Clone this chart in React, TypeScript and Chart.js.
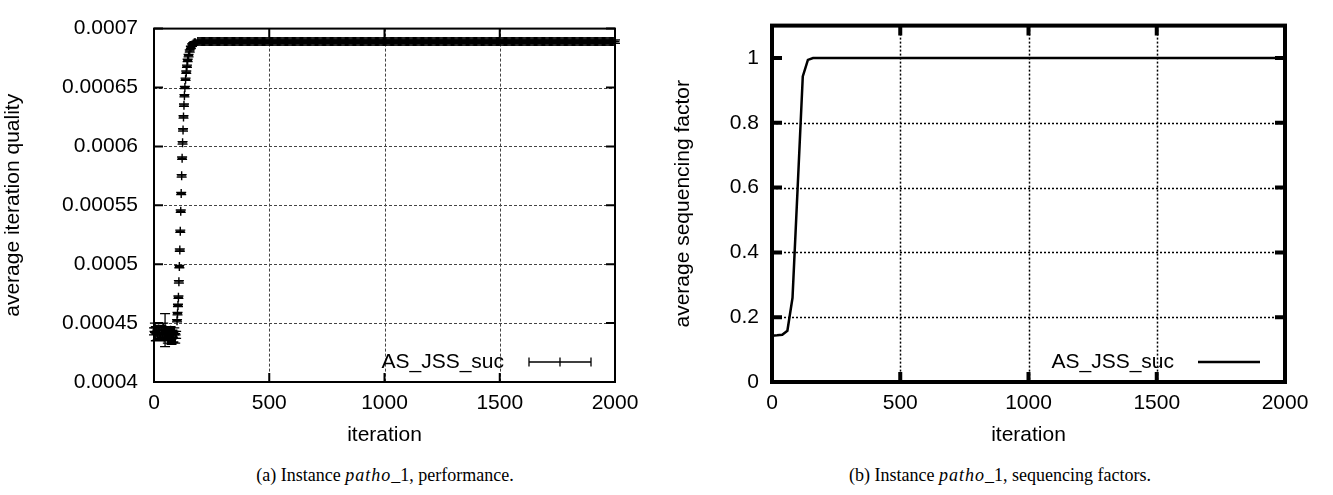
import React, { useEffect, useRef } from "react";
import { Chart, registerables } from "chart.js";

Chart.register(...registerables);

// ---------- tick values / labels ----------
const xTickValues = [0, 500, 1000, 1500, 2000];
const xTickLabels = ["0", "500", "1000", "1500", "2000"];
const qTickValues = [0.0004, 0.00045, 0.0005, 0.00055, 0.0006, 0.00065, 0.0007];
const qTickLabels = ["0.0004", "0.00045", "0.0005", "0.00055", "0.0006", "0.00065", "0.0007"];
const sTickValues = [0, 0.2, 0.4, 0.6, 0.8, 1];
const sTickLabels = ["0", "0.2", "0.4", "0.6", "0.8", "1"];

const seriesName = "AS_JSS_suc";

// ---------- (a) average iteration quality: early + rising part ----------
const qIter = [
  0, 4, 8, 12, 16, 20, 24, 28, 32, 36, 40, 44, 48, 52, 56, 60, 64, 68, 72, 76, 80, 84, 88, 92, 96,
  100, 102, 104, 106, 108, 110, 112, 114, 116, 118, 120, 122, 124, 126, 128, 130, 132, 134,
  137, 140, 143, 146, 150, 155, 160, 165, 170, 175, 180, 190,
];
const qMean = [
  0.000443, 0.000446, 0.000441, 0.000444, 0.00044, 0.000445, 0.000442, 0.000439, 0.000444, 0.000441,
  0.000446, 0.000438, 0.000444, 0.00044, 0.000443, 0.000437, 0.000442, 0.000439, 0.000444, 0.000436,
  0.000441, 0.000438, 0.000443, 0.000437, 0.00044,
  0.000452, 0.000458, 0.000465, 0.000472, 0.000485, 0.000498, 0.000512, 0.000528, 0.000545, 0.00056,
  0.000575, 0.00059, 0.000603, 0.000614, 0.000625, 0.000635, 0.000643, 0.00065,
  0.000657, 0.000663, 0.000668, 0.000673, 0.000677, 0.000681, 0.000684, 0.000686, 0.000687, 0.000688,
  0.000688, 0.000689,
];
const qErr = [
  0.000003, 0.000004, 0.000006, 0.000003, 0.000004, 0.000003, 0.000005, 0.000003, 0.000004, 0.000003,
  0.000004, 0.000003, 0.000014, 0.000004, 0.000003, 0.000004, 0.000003, 0.000004, 0.000003, 0.000004,
  0.000003, 0.000004, 0.000003, 0.000004, 0.000003,
  0.000001, 0.000001, 0.000001, 0.000001, 0.000001, 0.000001, 0.000001, 0.000001, 0.000001, 0.000001,
  0.000001, 0.000001, 0.000001, 0.000001, 0.000001, 0.000001, 0.000001, 0.000001,
  0.000001, 0.000001, 0.000001, 0.000001, 0.000001, 0.000001, 0.000001, 0.000001, 0.000001, 0.000001,
  0.000001, 0.000001,
];
// plateau: every sample from iteration 195 to 2000 (step 5) reads as this value
const plateauValue = 0.000689;
const plateauErr = 0.0000015;
const plateauIter: number[] = [];
for (let it = 195; it <= 2000; it += 5) plateauIter.push(it);

// ---------- (b) average sequencing factor ----------
const sIter = [0, 20, 40, 60, 80, 100, 120, 140, 160, 500, 1000, 1500, 2000];
const sVal = [0.143, 0.144, 0.146, 0.158, 0.26, 0.6, 0.943, 0.994, 1, 1, 1, 1, 1];

const FONT = "'Liberation Sans', Arial, Helvetica, sans-serif";
const SERIF = "'Liberation Serif', 'Times New Roman', Times, serif";

type Decor = {
  yTicks: number[];
  frameWidth: number;
  tickWidth: number;
  tickLen: number;
  gridColor: string;
  gridWidth: number;
  gridDash: number[];
  legend: (ctx: CanvasRenderingContext2D) => void;
  errors?: { x: number; y: number; e: number }[];
  capHalf?: number;
};

function decorPlugin(d: Decor) {
  return {
    id: "gnuDecor",
    beforeDatasetsDraw(chart: any) {
      const { ctx, chartArea: a, scales } = chart;
      const xs = scales.x;
      const ys = scales.y;
      ctx.save();
      ctx.strokeStyle = d.gridColor;
      ctx.lineWidth = d.gridWidth;
      ctx.setLineDash(d.gridDash);
      xTickValues.slice(1, -1).forEach((v) => {
        const px = Math.round(xs.getPixelForValue(v)) + 0.5;
        ctx.beginPath();
        ctx.moveTo(px, a.top);
        ctx.lineTo(px, a.bottom);
        ctx.stroke();
      });
      d.yTicks.slice(1, -1).forEach((v) => {
        const py = Math.round(ys.getPixelForValue(v)) + 0.5;
        ctx.beginPath();
        ctx.moveTo(a.left, py);
        ctx.lineTo(a.right, py);
        ctx.stroke();
      });
      ctx.setLineDash([]);
      if (d.errors) {
        ctx.strokeStyle = "#000";
        ctx.lineWidth = 1.3;
        const ch = d.capHalf || 5;
        ctx.beginPath();
        d.errors.forEach((p) => {
          const px = xs.getPixelForValue(p.x);
          const y1 = ys.getPixelForValue(p.y - p.e);
          const y2 = ys.getPixelForValue(p.y + p.e);
          ctx.moveTo(px, y1);
          ctx.lineTo(px, y2);
          ctx.moveTo(px - ch, y1);
          ctx.lineTo(px + ch, y1);
          ctx.moveTo(px - ch, y2);
          ctx.lineTo(px + ch, y2);
        });
        ctx.stroke();
      }
      ctx.restore();
    },
    afterDatasetsDraw(chart: any) {
      const { ctx, chartArea: a, scales } = chart;
      const xs = scales.x;
      const ys = scales.y;
      ctx.save();
      ctx.strokeStyle = "#000";
      ctx.lineWidth = d.tickWidth;
      ctx.beginPath();
      xTickValues.forEach((v) => {
        const px = xs.getPixelForValue(v);
        ctx.moveTo(px, a.bottom);
        ctx.lineTo(px, a.bottom - d.tickLen);
        ctx.moveTo(px, a.top);
        ctx.lineTo(px, a.top + d.tickLen);
      });
      d.yTicks.forEach((v) => {
        const py = ys.getPixelForValue(v);
        ctx.moveTo(a.left, py);
        ctx.lineTo(a.left + d.tickLen, py);
        ctx.moveTo(a.right, py);
        ctx.lineTo(a.right - d.tickLen, py);
      });
      ctx.stroke();
      ctx.lineWidth = d.frameWidth;
      ctx.strokeRect(a.left, a.top, a.right - a.left, a.bottom - a.top);
      d.legend(ctx);
      ctx.restore();
    },
  };
}

function axisCommon(ticks: number[], labels: string[]) {
  return {
    afterBuildTicks: (s: any) => {
      s.ticks = ticks.map((value) => ({ value }));
    },
    grid: { display: false, drawTicks: false },
    border: { display: false },
    ticks: {
      color: "#000",
      font: { family: FONT, size: 21 },
      autoSkip: false,
      maxRotation: 0,
      callback: (_v: any, i: number) => labels[i] ?? "",
    },
  };
}

export default function App() {
  const leftRef = useRef<HTMLCanvasElement | null>(null);
  const rightRef = useRef<HTMLCanvasElement | null>(null);

  useEffect(() => {
    const qPoints = qIter
      .map((x, i) => ({ x, y: qMean[i], e: qErr[i] }))
      .concat(plateauIter.map((x) => ({ x, y: plateauValue, e: plateauErr })));

    const left = new Chart(leftRef.current as HTMLCanvasElement, {
      type: "scatter",
      data: {
        datasets: [
          {
            label: seriesName,
            data: qPoints.map((p) => ({ x: p.x, y: p.y })),
            pointStyle: "cross",
            pointRadius: 4.5,
            pointBorderWidth: 1.4,
            borderColor: "#000",
            backgroundColor: "#000",
            borderWidth: 1.4,
            clip: false as any,
          } as any,
        ],
      },
      options: {
        animation: false,
        responsive: false,
        events: [],
        layout: { padding: { top: 12, right: 45, left: 0, bottom: 0 } },
        plugins: { legend: { display: false }, tooltip: { enabled: false } },
        scales: {
          x: {
            type: "linear",
            min: 0,
            max: 2000,
            ...axisCommon(xTickValues, xTickLabels),
            afterFit: (s: any) => {
              s.height = 78;
            },
            ticks: { ...axisCommon(xTickValues, xTickLabels).ticks, padding: 9 },
            title: {
              display: true,
              text: "iteration",
              color: "#000",
              font: { family: FONT, size: 21 },
              padding: { top: 0, bottom: 12 },
            },
          } as any,
          y: {
            type: "linear",
            min: 0.0004,
            max: 0.0007,
            ...axisCommon(qTickValues, qTickLabels),
            afterFit: (s: any) => {
              s.width = 154;
            },
            ticks: { ...axisCommon(qTickValues, qTickLabels).ticks, padding: 16 },
            title: {
              display: true,
              text: "average iteration quality",
              color: "#000",
              font: { family: FONT, size: 21 },
              padding: { top: 1, bottom: 0 },
            },
          } as any,
        },
      },
      plugins: [
        decorPlugin({
          yTicks: qTickValues,
          frameWidth: 2,
          tickWidth: 2,
          tickLen: 9,
          gridColor: "#444",
          gridWidth: 1,
          gridDash: [3, 2],
          errors: qPoints,
          capHalf: 5,
          legend: (ctx) => {
            ctx.fillStyle = "#000";
            ctx.font = `21px ${FONT}`;
            ctx.textAlign = "right";
            ctx.textBaseline = "middle";
            ctx.fillText(seriesName, 504, 362);
            ctx.lineWidth = 1.3;
            ctx.beginPath();
            ctx.moveTo(529, 362);
            ctx.lineTo(591, 362);
            ctx.moveTo(529, 357.5);
            ctx.lineTo(529, 366.5);
            ctx.moveTo(591, 357.5);
            ctx.lineTo(591, 366.5);
            ctx.moveTo(560, 357.5);
            ctx.lineTo(560, 366.5);
            ctx.stroke();
          },
        }) as any,
      ],
    });

    const right = new Chart(rightRef.current as HTMLCanvasElement, {
      type: "line",
      data: {
        datasets: [
          {
            label: seriesName,
            data: sIter.map((x, i) => ({ x, y: sVal[i] })),
            borderColor: "#000",
            borderWidth: 2.5,
            pointRadius: 0,
            tension: 0,
            fill: false,
          },
        ],
      },
      options: {
        animation: false,
        responsive: false,
        events: [],
        layout: { padding: { top: 12, right: 48, left: 0, bottom: 0 } },
        plugins: { legend: { display: false }, tooltip: { enabled: false } },
        scales: {
          x: {
            type: "linear",
            min: 0,
            max: 2000,
            ...axisCommon(xTickValues, xTickLabels),
            afterFit: (s: any) => {
              s.height = 78;
            },
            ticks: { ...axisCommon(xTickValues, xTickLabels).ticks, padding: 9 },
            title: {
              display: true,
              text: "iteration",
              color: "#000",
              font: { family: FONT, size: 21 },
              padding: { top: 0, bottom: 12 },
            },
          } as any,
          y: {
            type: "linear",
            min: 0,
            max: 1.1,
            ...axisCommon(sTickValues, sTickLabels),
            afterFit: (s: any) => {
              s.width = 112;
            },
            ticks: { ...axisCommon(sTickValues, sTickLabels).ticks, padding: 13 },
            title: {
              display: true,
              text: "average sequencing factor",
              color: "#000",
              font: { family: FONT, size: 21 },
              padding: { top: 11, bottom: 0 },
            },
          } as any,
        },
      },
      plugins: [
        decorPlugin({
          yTicks: sTickValues,
          frameWidth: 4,
          tickWidth: 4,
          tickLen: 10,
          gridColor: "#000",
          gridWidth: 1.5,
          gridDash: [2, 2],
          legend: (ctx) => {
            ctx.fillStyle = "#000";
            ctx.font = `21px ${FONT}`;
            ctx.textAlign = "right";
            ctx.textBaseline = "middle";
            ctx.fillText(seriesName, 514, 362);
            ctx.lineWidth = 2.5;
            ctx.beginPath();
            ctx.moveTo(538, 362);
            ctx.lineTo(600, 362);
            ctx.stroke();
          },
        }) as any,
      ],
    });

    return () => {
      left.destroy();
      right.destroy();
    };
  }, []);

  const captionStyle: React.CSSProperties = {
    position: "absolute",
    top: 464,
    textAlign: "center",
    fontFamily: SERIF,
    fontSize: 18,
    lineHeight: "22px",
    color: "#000",
    whiteSpace: "nowrap",
  };
  const mathStyle: React.CSSProperties = { letterSpacing: "1px" };

  return (
    <div
      style={{
        position: "fixed",
        left: 0,
        top: 0,
        width: 1333,
        height: 495,
        background: "#fff",
        overflow: "hidden",
      }}
    >
      <canvas
        ref={leftRef}
        width={660}
        height={460}
        style={{ position: "absolute", left: 0, top: 0, width: 660, height: 460 }}
      />
      <canvas
        ref={rightRef}
        width={673}
        height={460}
        style={{ position: "absolute", left: 660, top: 0, width: 673, height: 460 }}
      />
      <div style={{ ...captionStyle, left: 85, width: 600 }}>
        (a) Instance <i style={mathStyle}>patho</i>_1, performance.
      </div>
      <div style={{ ...captionStyle, left: 700, width: 600 }}>
        (b) Instance <i style={mathStyle}>patho</i>_1, sequencing factors.
      </div>
    </div>
  );
}
